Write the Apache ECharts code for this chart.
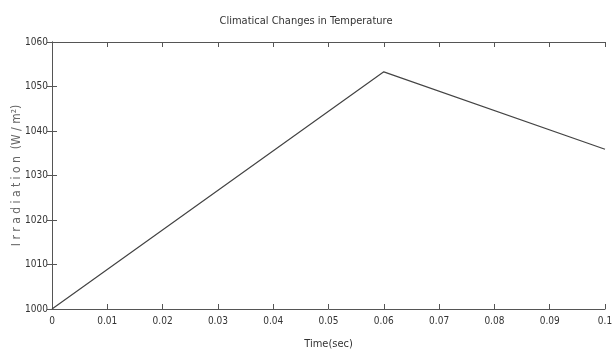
<!DOCTYPE html>
<html>
<head>
<meta charset="utf-8">
<script src="https://cdn.jsdelivr.net/npm/echarts@6/dist/echarts.min.js"></script>
<style>
  html, body { margin: 0; padding: 0; background: #fff; }
  #chart { width: 612px; height: 359px; }
</style>
</head>
<body>
<div id="chart"></div>
<script>
// Irradiation ramp over time (piecewise linear)
const timeSec = [0, 0.06, 0.1];
const irradiation = [1000, 1053.3, 1035.9];
const xTicks = ['0', '0.01', '0.02', '0.03', '0.04', '0.05', '0.06', '0.07', '0.08', '0.09', '0.1'];

const font = '"Liberation Sans Narrow", "DejaVu Sans Condensed", sans-serif';
const axisColor = '#555';
const textColor = '#333';

const chart = echarts.init(document.getElementById('chart'), null, { renderer: 'canvas' });

const frameAxis = {
  axisLine: { show: true, lineStyle: { color: axisColor, width: 1 } },
  axisTick: { show: true, inside: true, length: 5, lineStyle: { color: axisColor } },
  splitLine: { show: false }
};

chart.setOption({
  animation: false,
  backgroundColor: '#fff',
  title: {
    text: 'Climatical Changes in Temperature',
    left: 'center',
    top: 11,
    textStyle: { fontFamily: font, fontSize: 11, fontWeight: 'normal', color: textColor }
  },
  grid: { left: 52, right: 7, top: 42, bottom: 50, containLabel: false, outerBoundsMode: 'none' },
  xAxis: [
    Object.assign({
      type: 'value', min: 0, max: 0.1, interval: 0.01, position: 'bottom',
      name: 'Time(sec)', nameLocation: 'middle', nameGap: 30, nameMoveOverlap: false,
      nameTextStyle: { fontFamily: font, fontSize: 11, color: textColor },
      axisLabel: {
        fontFamily: font, fontSize: 10, color: textColor, margin: 7,
        formatter: v => xTicks[Math.round(v * 100)]
      }
    }, frameAxis),
    Object.assign({
      type: 'value', min: 0, max: 0.1, interval: 0.01, position: 'top',
      axisLabel: { show: false }
    }, frameAxis)
  ],
  yAxis: [
    Object.assign({
      type: 'value', min: 1000, max: 1060, interval: 10, position: 'left',
      name: 'I r r a d i a t i o n  (W / m²)', nameLocation: 'middle', nameGap: 29, nameMoveOverlap: false,
      nameTextStyle: { fontFamily: font, fontSize: 12, color: '#666' },
      axisLabel: { fontFamily: font, fontSize: 10, color: textColor, margin: 4, formatter: v => String(v) }
    }, frameAxis),
    Object.assign({
      type: 'value', min: 1000, max: 1060, interval: 10, position: 'right',
      axisLabel: { show: false }
    }, frameAxis)
  ],
  series: [{
    type: 'line',
    data: timeSec.map((t, i) => [t, irradiation[i]]),
    showSymbol: false,
    lineStyle: { color: '#444', width: 1.2 }
  }]
});
</script>
</body>
</html>
